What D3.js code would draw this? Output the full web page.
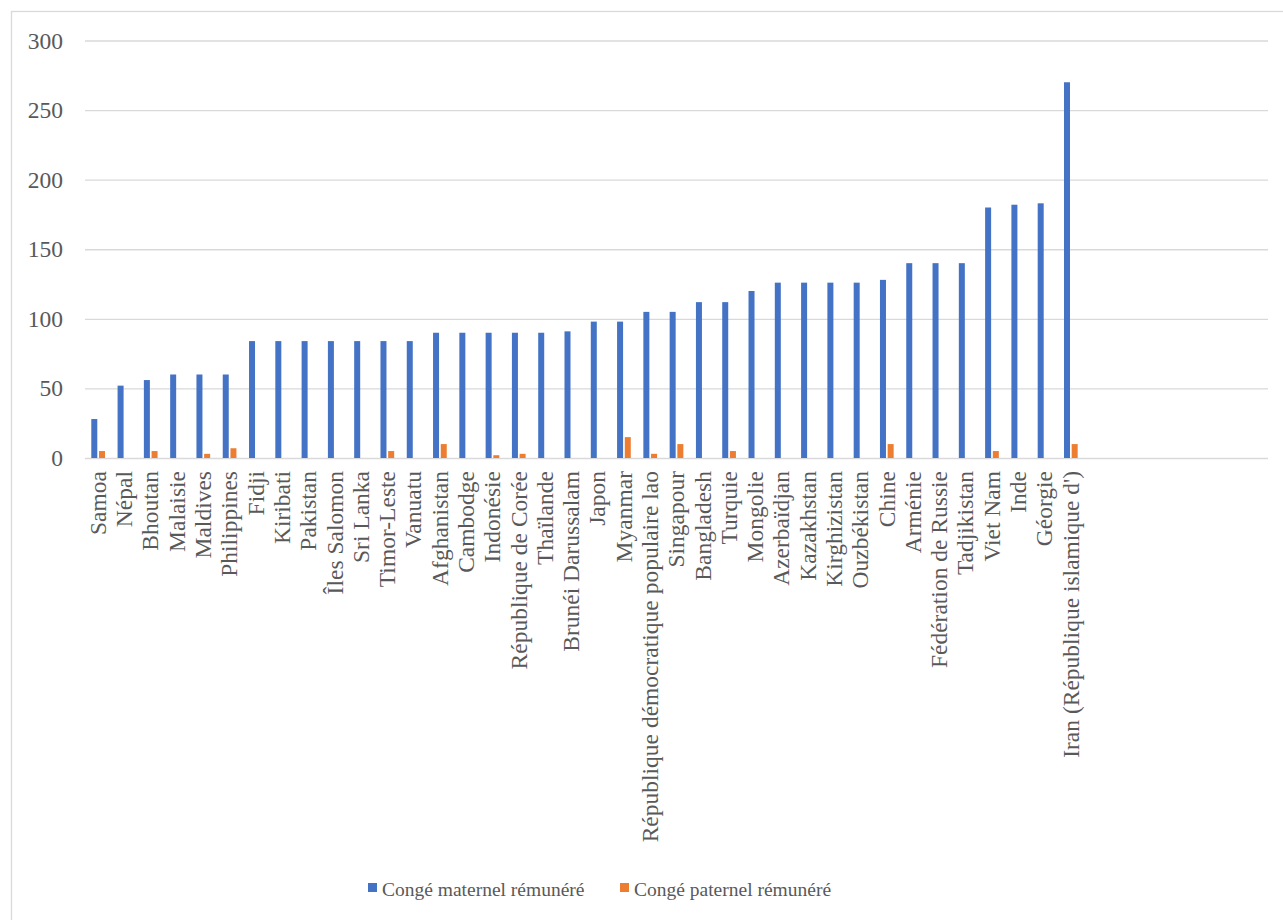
<!DOCTYPE html>
<html lang="fr">
<head>
<meta charset="utf-8">
<script src="https://cdn.jsdelivr.net/npm/d3@7"></script>
<style>
  html, body { margin: 0; padding: 0; background: #ffffff; }
  svg { display: block; }
</style>
</head>
<body>
<svg id="chart" width="1283" height="920"></svg>
<script>
// Pays (ordre croissant de congé maternel)
const categories = [
  "Samoa", "Népal", "Bhoutan", "Malaisie", "Maldives", "Philippines", "Fidji",
  "Kiribati", "Pakistan", "Îles Salomon", "Sri Lanka", "Timor-Leste", "Vanuatu",
  "Afghanistan", "Cambodge", "Indonésie", "République de Corée", "Thaïlande",
  "Brunéi Darussalam", "Japon", "Myanmar", "République démocratique populaire lao",
  "Singapour", "Bangladesh", "Turquie", "Mongolie", "Azerbaïdjan", "Kazakhstan",
  "Kirghizistan", "Ouzbékistan", "Chine", "Arménie", "Fédération de Russie",
  "Tadjikistan", "Viet Nam", "Inde", "Géorgie", "Iran (République islamique d')"
];

// Durée en jours
const congeMaternel = [
  28, 52, 56, 60, 60, 60, 84,
  84, 84, 84, 84, 84, 84,
  90, 90, 90, 90, 90,
  91, 98, 98, 105,
  105, 112, 112, 120, 126, 126,
  126, 126, 128, 140, 140,
  140, 180, 182, 183, 270
];
const congePaternel = [
  5, 0, 5, 0, 3, 7, 0,
  0, 0, 0, 0, 5, 0,
  10, 0, 2, 3, 0,
  0, 0, 15, 3,
  10, 0, 5, 0, 0, 0,
  0, 0, 10, 0, 0,
  0, 5, 0, 0, 10
];

const seriesNames = ["Congé maternel rémunéré", "Congé paternel rémunéré"];
const seriesColors = ["#4472C4", "#ED7D31"];
const yTicks = [0, 50, 100, 150, 200, 250, 300];
const emptySlots = 7; // catégories vides en fin d'axe

const FONT = "'Liberation Serif', 'Times New Roman', 'DejaVu Serif', serif";
const TEXT_COLOR = "#595959";

const svg = d3.select("#chart");

// Cadre du graphique
svg.append("rect")
  .attr("x", 11.5).attr("y", 11.5)
  .attr("width", 1300).attr("height", 940)
  .attr("fill", "none").attr("stroke", "#d9d9d9").attr("stroke-width", 1.3);

const plot = { left: 85, right: 1268, top: 40.5, bottom: 458 };

const slots = d3.range(categories.length + emptySlots);
const x0 = d3.scaleBand()
  .domain(slots)
  .range([plot.left, plot.right])
  .paddingInner(0.479)
  .paddingOuter(0.2395);

const x1 = d3.scaleBand()
  .domain([0, 1])
  .range([0, x0.bandwidth()])
  .paddingInner(0.22);

const y = d3.scaleLinear().domain([0, 300]).range([plot.bottom, plot.top]);

// Quadrillage horizontal et graduations
const yAxis = d3.axisLeft(y).tickValues(yTicks).tickSize(-(plot.right - plot.left)).tickPadding(22);
const gy = svg.append("g")
  .attr("transform", `translate(${plot.left},0)`)
  .call(yAxis);
gy.select(".domain").remove();
gy.attr("font-family", null).attr("font-size", null);
gy.selectAll(".tick line").attr("stroke", "#d9d9d9").attr("stroke-width", 1.3);
gy.selectAll(".tick text")
  .style("font-family", FONT)
  .style("font-size", "23.5px")
  .style("fill", TEXT_COLOR);

// Barres
const rows = categories.map((c, i) => ({ i, values: [congeMaternel[i], congePaternel[i]] }));
const groups = svg.append("g").selectAll("g")
  .data(rows)
  .join("g")
  .attr("transform", d => `translate(${x0(d.i)},0)`);

groups.selectAll("rect")
  .data(d => d.values.map((v, s) => ({ v, s })))
  .join("rect")
  .attr("x", d => x1(d.s))
  .attr("width", x1.bandwidth())
  .attr("y", d => y(d.v))
  .attr("height", d => y(0) - y(d.v))
  .attr("fill", d => seriesColors[d.s]);

// Libellés des catégories (verticaux)
const gx = svg.append("g");
gx.selectAll("text")
  .data(rows)
  .join("text")
  .attr("transform", d => `translate(${x0(d.i) + x0.bandwidth() / 2},471) rotate(-90)`)
  .attr("text-anchor", "end")
  .attr("dy", "0.33em")
  .style("font-family", FONT)
  .style("font-size", "23.5px")
  .style("fill", TEXT_COLOR)
  .text(d => categories[d.i]);

// Légende
const legendItems = [
  { name: seriesNames[0], color: seriesColors[0], x: 368 },
  { name: seriesNames[1], color: seriesColors[1], x: 620 }
];
const lg = svg.append("g");
legendItems.forEach(it => {
  lg.append("rect")
    .attr("x", it.x).attr("y", 883)
    .attr("width", 9).attr("height", 9)
    .attr("fill", it.color);
  lg.append("text")
    .attr("x", it.x + 14).attr("y", 896)
    .style("font-family", FONT)
    .style("font-size", "19.5px")
    .style("fill", TEXT_COLOR)
    .text(it.name);
});
</script>
</body>
</html>
